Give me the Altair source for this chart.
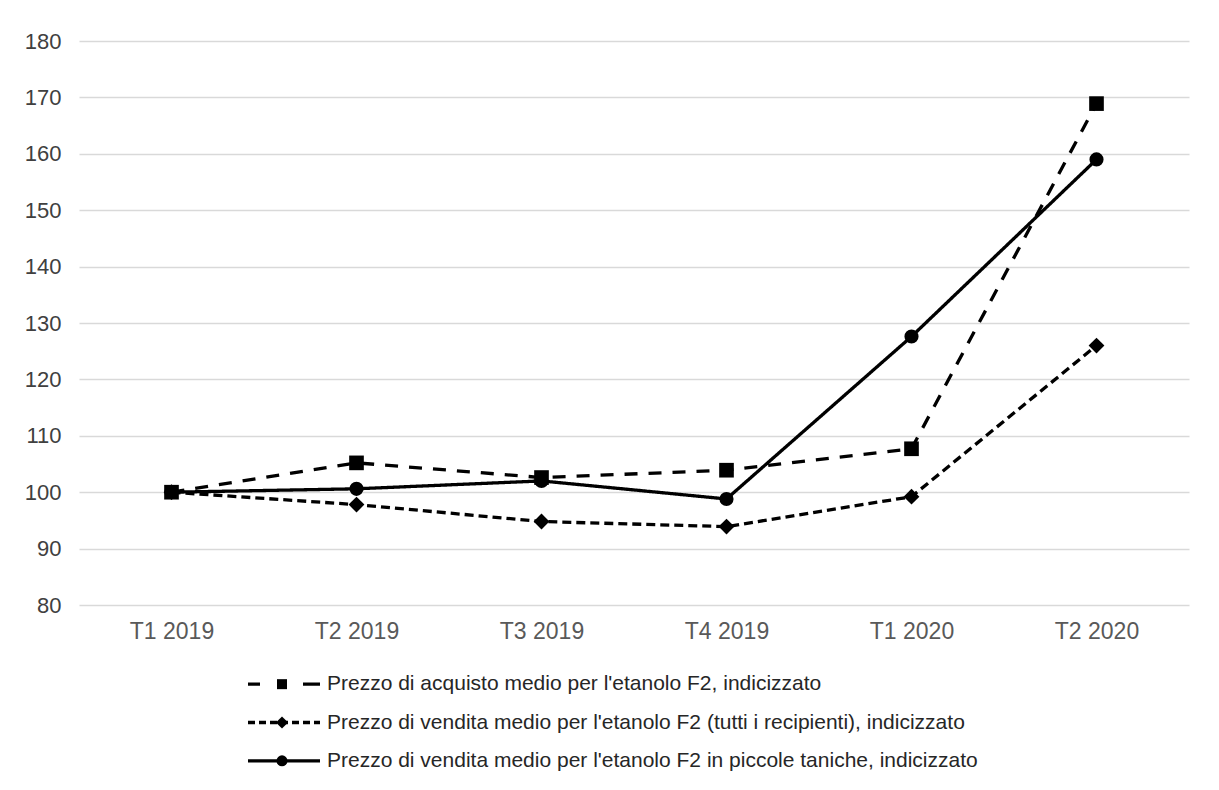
import altair as alt
import pandas as pd

quarters = ["T1 2019", "T2 2019", "T3 2019", "T4 2019", "T1 2020", "T2 2020"]
series_names = [
    "Prezzo di acquisto medio per l'etanolo F2, indicizzato",
    "Prezzo di vendita medio per l'etanolo F2 (tutti i recipienti), indicizzato",
    "Prezzo di vendita medio per l'etanolo F2 in piccole taniche, indicizzato",
]
acquisto = [100.0, 105.2, 102.6, 103.9, 107.7, 168.9]
vendita_tutti = [100.0, 97.8, 94.8, 93.9, 99.2, 126.0]
vendita_taniche = [100.0, 100.6, 102.0, 98.8, 127.6, 159.0]
y_ticks = [80, 90, 100, 110, 120, 130, 140, 150, 160, 170, 180]

rows = []
for name, vals in zip(series_names, [acquisto, vendita_tutti, vendita_taniche]):
    for q, v in zip(quarters, vals):
        rows.append({"quarter": q, "value": v, "series": name})
df = pd.DataFrame(rows)

FONT = "Liberation Sans"
dash_scale = alt.Scale(domain=series_names, range=[[13, 11], [9, 5], [1, 0]])
leg_dash_scale = alt.Scale(domain=series_names, range=[[12, 43, 20], [7, 4], [1, 0]])
marker_shapes = ["square", "diamond", "circle"]
marker_sizes = [215, 250, 200]
legend_marker_sizes = [100, 150, 120]

x_enc = alt.X(
    "quarter:N", sort=quarters,
    scale=alt.Scale(type="point", padding=0.5),
    axis=alt.Axis(labelAngle=0, domain=False, ticks=False, grid=False,
                  labelPadding=15, labelFontSize=23, labelColor="#595959",
                  labelFont=FONT, title=None),
)
y_enc = alt.Y(
    "value:Q",
    scale=alt.Scale(domain=[80, 180], nice=False, zero=False),
    axis=alt.Axis(values=y_ticks, grid=True, gridColor="#d9d9d9", gridWidth=1.5,
                  domain=False, ticks=False, labelPadding=18, labelFontSize=22,
                  labelColor="#404040", labelFont=FONT, title=None),
)

base = alt.Chart(df)
lines = base.mark_line(color="black", strokeWidth=3.3).encode(
    x=x_enc, y=y_enc,
    strokeDash=alt.StrokeDash("series:N", scale=dash_scale, legend=None),
    detail="series:N",
)
point_layers = []
for name, shp, sz in zip(series_names, marker_shapes, marker_sizes):
    point_layers.append(
        base.transform_filter(alt.datum.series == name)
        .mark_point(filled=True, color="black", opacity=1, shape=shp, size=sz)
        .encode(x=x_enc, y=y_enc)
    )
main = alt.layer(lines, *point_layers).properties(width=1110, height=564)

# hand-built legend (rows 0..2)
leg_line_start, leg_line_end, leg_marker, leg_text = 169, 241, 203, 248
leg_rows = []
leg_pts = []
for i, name in enumerate(series_names):
    leg_rows.append({"x": leg_line_start, "row": i, "series": name})
    leg_rows.append({"x": leg_line_end, "row": i, "series": name})
    leg_pts.append({"x": leg_marker, "tx": leg_text, "row": i, "series": name})
leg_lines_df = pd.DataFrame(leg_rows)
leg_pts_df = pd.DataFrame(leg_pts)

lx = alt.Scale(domain=[0, 1110])
ly = alt.Scale(domain=[-0.5, 2.5], reverse=True)

leg_lines = alt.Chart(leg_lines_df).mark_line(color="black", strokeWidth=3.3).encode(
    x=alt.X("x:Q", scale=lx, axis=None),
    y=alt.Y("row:Q", scale=ly, axis=None),
    detail="series:N",
    strokeDash=alt.StrokeDash("series:N", scale=leg_dash_scale, legend=None),
)
leg_mark_layers = []
for name, shp, sz in zip(series_names, marker_shapes, legend_marker_sizes):
    leg_mark_layers.append(
        alt.Chart(leg_pts_df).transform_filter(alt.datum.series == name)
        .mark_point(filled=True, color="black", opacity=1, shape=shp, size=sz)
        .encode(
            x=alt.X("x:Q", scale=lx, axis=None),
            y=alt.Y("row:Q", scale=ly, axis=None),
        )
    )
leg_text = alt.Chart(leg_pts_df).mark_text(
    align="left", baseline="middle", font=FONT, fontSize=21, color="#262626"
).encode(
    x=alt.X("tx:Q", scale=lx, axis=None),
    y=alt.Y("row:Q", scale=ly, axis=None),
    text="series:N",
)
legend = alt.layer(leg_lines, *leg_mark_layers, leg_text).properties(width=1110, height=115)

chart = alt.vconcat(main, legend, spacing=22).properties(
    padding={"left": 16, "top": 22, "right": 5, "bottom": 5}
).resolve_scale(
    strokeDash="independent"
).configure(font=FONT, view=alt.ViewConfig(stroke=None))

chart.save("out.html", embed_options={"renderer": "svg", "actions": False})
